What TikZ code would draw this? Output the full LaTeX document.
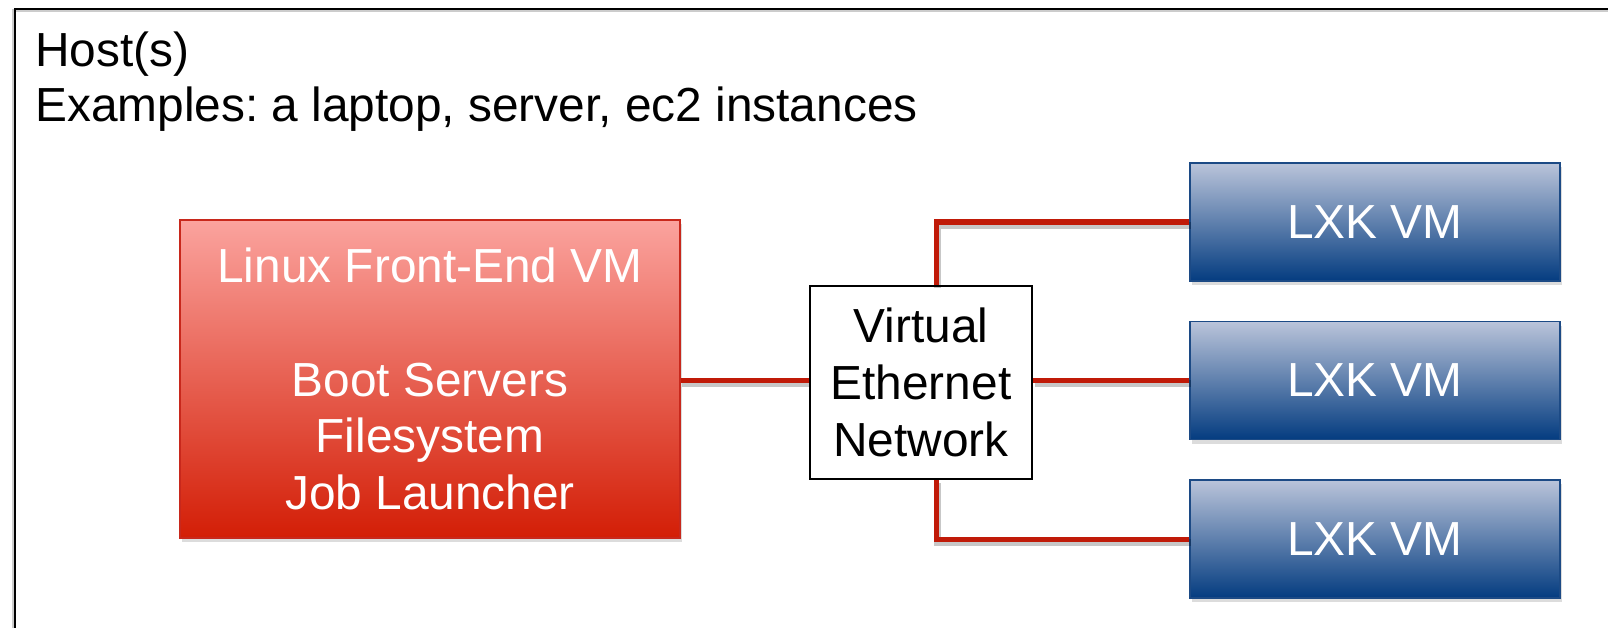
\documentclass[tikz,border=0pt]{standalone}
\usepackage{fontspec}
\setmainfont{Liberation Sans}
\usetikzlibrary{shadows}
\definecolor{linkred}{RGB}{192,26,8}
\definecolor{redtop}{RGB}{251,163,158}
\definecolor{redbot}{RGB}{211,30,6}
\definecolor{redborder}{RGB}{200,40,28}
\definecolor{bluetop}{RGB}{186,196,218}
\definecolor{bluebot}{RGB}{4,60,128}
\definecolor{blueborder}{RGB}{28,74,133}
\tikzset{
  bigfont/.style={font=\fontsize{48}{57}\selectfont\frenchspacing},
  boxshadow/.style={drop shadow={opacity=0.28, shadow xshift=2bp, shadow yshift=-4bp}},
  fevm/.style={bigfont, text=white, align=center, draw=redborder, line width=1.5bp,
    top color=redtop, bottom color=redbot, minimum width=500bp, minimum height=318bp,
    inner sep=0pt, boxshadow},
  lxkvm/.style={bigfont, text=white, align=center, draw=blueborder, line width=1.8bp,
    top color=bluetop, bottom color=bluebot, minimum width=370bp, minimum height=118bp,
    inner sep=0pt, boxshadow},
  netbox/.style={bigfont, text=black, align=center, draw=black, line width=2.2bp,
    fill=white, minimum width=222bp, minimum height=193bp, inner sep=0pt},
  hosttext/.style={bigfont, text=black, anchor=base west, inner sep=0pt},
  linkshadow/.style={draw=black, opacity=0.22, line width=7bp, line join=miter},
  link/.style={draw=linkred, line width=5bp, line join=miter},
}
\begin{document}
\begin{tikzpicture}[x=1bp,y=-1bp]
\useasboundingbox (0,0) rectangle (1608,628);
% host frame (open to the right and bottom)
\draw[black, opacity=0.2, line width=3bp] (1612,11) -- (13,11) -- (13,632);
\draw[black, line width=2.4bp] (1612,9) -- (15,9) -- (15,632);
\node[hosttext] (host1) at (35,67) {Host(s)};
\node[hosttext] (host2) at (35,122) {Examples: a laptop, server, ec2 instances};

% nodes
\node[fevm] (fe) at (430,379) {Linux Front-End VM\\ \mbox{}\\Boot Servers\\Filesystem\\Job Launcher};
\node[netbox] (net) at (921,382.5) {Virtual\\Ethernet\\Network};
\node[lxkvm] (lxk1) at (1375,222) {LXK VM};
\node[lxkvm] (lxk2) at (1375,380.5) {LXK VM};
\node[lxkvm] (lxk3) at (1375,539) {LXK VM};

\coordinate (jt) at (936,222);
\coordinate (jb) at (936,539);

% connector shadows
\begin{scope}[transform canvas={xshift=1.5bp,yshift=-3bp}]
\path[linkshadow] (fe.east |- 0,380) -- (net.west |- 0,380);
\path[linkshadow] (net.east |- lxk2) -- (lxk2.west);
\path[linkshadow] (net.north -| jt) -- (jt) -- (lxk1.west);
\path[linkshadow] (net.south -| jb) -- (jb) -- (lxk3.west);
\end{scope}
% connectors
\path[link] (fe.east |- 0,380) -- (net.west |- 0,380);
\path[link] (net.east |- lxk2) -- (lxk2.west);
\path[link] (net.north -| jt) -- (jt) -- (lxk1.west);
\path[link] (net.south -| jb) -- (jb) -- (lxk3.west);
\end{tikzpicture}
\end{document}
